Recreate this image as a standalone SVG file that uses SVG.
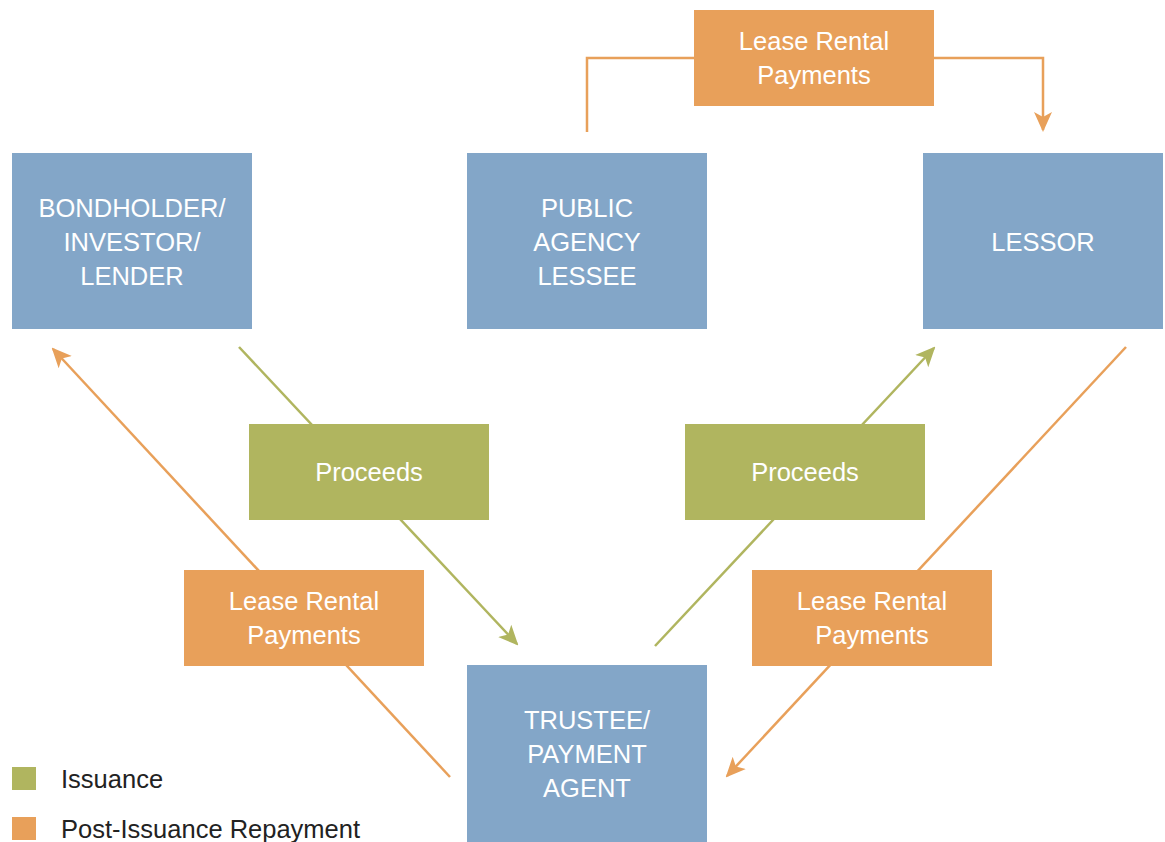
<svg xmlns="http://www.w3.org/2000/svg" width="1165" height="842" viewBox="0 0 1165 842">
<style>
.box{fill:#83A6C8}
.g{fill:#B0B55F}
.o{fill:#E8A05A}
.lbl{font-family:"Liberation Sans",Arial,sans-serif;font-size:25.5px;fill:#fff;text-anchor:middle}
.leg{font-family:"Liberation Sans",Arial,sans-serif;font-size:25.5px;fill:#222}
.lg{stroke:#B0B55F;stroke-width:2.5;fill:none}
.lo{stroke:#E8A05A;stroke-width:2.5;fill:none}
</style>
<defs>
<marker id="ag" viewBox="0 0 20 20" refX="18" refY="10" markerWidth="20" markerHeight="20" markerUnits="userSpaceOnUse" orient="auto">
<path d="M0,1 L20,10 L0,19 L5,10 Z" fill="#B0B55F"/>
</marker>
<marker id="ao" viewBox="0 0 20 20" refX="18" refY="10" markerWidth="20" markerHeight="20" markerUnits="userSpaceOnUse" orient="auto">
<path d="M0,1 L20,10 L0,19 L5,10 Z" fill="#E8A05A"/>
</marker>
</defs>
<rect width="1165" height="842" fill="#fff"/>
<g id="connectors">
<line class="lg" x1="239" y1="347" x2="517" y2="644" marker-end="url(#ag)"/>
<line class="lo" x1="450" y1="777" x2="53" y2="349" marker-end="url(#ao)"/>
<line class="lg" x1="655" y1="646" x2="934" y2="348" marker-end="url(#ag)"/>
<line class="lo" x1="1126" y1="347" x2="727" y2="776" marker-end="url(#ao)"/>
<polyline class="lo" points="587,132 587,58 1043,58 1043,130" marker-end="url(#ao)"/>
</g>
<g id="bondholder">
<rect class="box" x="12" y="153" width="240" height="176"/>
<text class="lbl" x="132" y="217">BONDHOLDER/</text>
<text class="lbl" x="132" y="251">INVESTOR/</text>
<text class="lbl" x="132" y="285">LENDER</text>
</g>
<g id="public-agency">
<rect class="box" x="467" y="153" width="240" height="176"/>
<text class="lbl" x="587" y="217">PUBLIC</text>
<text class="lbl" x="587" y="251">AGENCY</text>
<text class="lbl" x="587" y="285">LESSEE</text>
</g>
<g id="lessor">
<rect class="box" x="923" y="153" width="240" height="176"/>
<text class="lbl" x="1043" y="251">LESSOR</text>
</g>
<g id="trustee">
<rect class="box" x="467" y="665" width="240" height="177"/>
<text class="lbl" x="587" y="729">TRUSTEE/</text>
<text class="lbl" x="587" y="763">PAYMENT</text>
<text class="lbl" x="587" y="797">AGENT</text>
</g>
<g id="proceeds-left">
<rect class="g" x="249" y="424" width="240" height="96"/>
<text class="lbl" x="369" y="481">Proceeds</text>
</g>
<g id="proceeds-right">
<rect class="g" x="685" y="424" width="240" height="96"/>
<text class="lbl" x="805" y="481">Proceeds</text>
</g>
<g id="lease-top">
<rect class="o" x="694" y="10" width="240" height="96"/>
<text class="lbl" x="814" y="50">Lease Rental</text>
<text class="lbl" x="814" y="84">Payments</text>
</g>
<g id="lease-left">
<rect class="o" x="184" y="570" width="240" height="96"/>
<text class="lbl" x="304" y="610">Lease Rental</text>
<text class="lbl" x="304" y="644">Payments</text>
</g>
<g id="lease-right">
<rect class="o" x="752" y="570" width="240" height="96"/>
<text class="lbl" x="872" y="610">Lease Rental</text>
<text class="lbl" x="872" y="644">Payments</text>
</g>
<g id="legend">
<rect class="g" x="12" y="767" width="24" height="23"/>
<text class="leg" x="61" y="788">Issuance</text>
<rect class="o" x="12" y="817" width="24" height="23"/>
<text class="leg" x="61" y="838">Post-Issuance Repayment</text>
</g>
</svg>
